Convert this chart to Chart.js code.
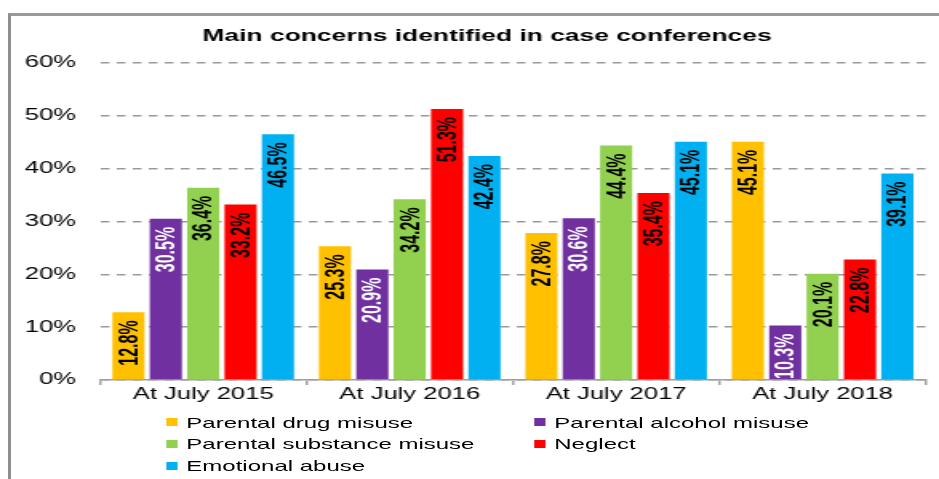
<!DOCTYPE html>
<html>
<head>
<meta charset="utf-8">
<script src="https://cdn.jsdelivr.net/npm/chart.js@4/dist/chart.umd.min.js"></script>
<style>
  html, body { margin: 0; padding: 0; background: #fff; width: 939px; height: 479px; overflow: hidden; }
  #frame { position: absolute; left: 8px; top: 13px; width: 960px; height: 500px;
           border-left: 3px solid #8e8e8e; border-top: 3px solid #9a9a9a; box-sizing: border-box; }
  #wrap { position: absolute; left: 0; top: 0; width: 587px; height: 479px;
          transform: scaleX(1.5997); transform-origin: 0 0; }
  #chart { position: absolute; left: 0; top: 0; }
  #legend { position: absolute; left: 104px; top: 411.5px; display: grid;
            grid-template-columns: 230px auto; grid-auto-rows: 21.8px;
            font: 15px "Liberation Sans", Arial, sans-serif; color: #000; }
  .item { display: flex; align-items: center; white-space: nowrap; line-height: 21.8px; }
  .box { width: 6.5px; height: 8px; margin-right: 6px; display: inline-block; }
</style>
</head>
<body>
<div id="frame"></div>
<div id="wrap">
  <canvas id="chart" width="587" height="479"></canvas>
  <div id="legend"></div>
</div>
<script>
const chartTitle = 'Main concerns identified in case conferences';
const categories = ['At July 2015', 'At July 2016', 'At July 2017', 'At July 2018'];
const seriesNames = ['Parental drug misuse', 'Parental alcohol misuse', 'Parental substance misuse', 'Neglect', 'Emotional abuse'];
const drugMisuse = [12.8, 25.3, 27.8, 45.1];
const alcoholMisuse = [30.5, 20.9, 30.6, 10.3];
const substanceMisuse = [36.4, 34.2, 44.4, 20.1];
const neglect = [33.2, 51.3, 35.4, 22.8];
const emotionalAbuse = [46.5, 42.4, 45.1, 39.1];
const yTickLabels = ['0%', '10%', '20%', '30%', '40%', '50%', '60%'];

const seriesValues = [drugMisuse, alcoholMisuse, substanceMisuse, neglect, emotionalAbuse];
const seriesColors = ['#FFC000', '#7030A0', '#92D050', '#FF0000', '#00B0F0'];
const labelColors = ['#000', '#fff', '#000', '#000', '#000'];
const FONT = '"Liberation Sans", Arial, sans-serif';

const titlePlugin = {
  id: 'titleText',
  afterDraw(chart) {
    const ctx = chart.ctx;
    ctx.save();
    ctx.font = 'bold 16.5px ' + FONT;
    ctx.fillStyle = '#000';
    ctx.textAlign = 'center';
    ctx.textBaseline = 'middle';
    ctx.fillText(chartTitle, 304.5, 36.5);
    ctx.restore();
  }
};

const barLabels = {
  id: 'barLabels',
  afterDatasetsDraw(chart) {
    const ctx = chart.ctx;
    chart.data.datasets.forEach((ds, di) => {
      const meta = chart.getDatasetMeta(di);
      meta.data.forEach((el, i) => {
        const v = ds.data[i];
        ctx.save();
        ctx.translate(el.x, el.y + 8);
        ctx.rotate(-Math.PI / 2);
        ctx.font = 'bold 16px ' + FONT;
        ctx.fillStyle = labelColors[di];
        ctx.textAlign = 'right';
        ctx.textBaseline = 'middle';
        ctx.fillText(v.toFixed(1) + '%', 0, 1);
        ctx.restore();
      });
    });
  }
};

const chart = new Chart(document.getElementById('chart'), {
  type: 'bar',
  data: {
    labels: categories,
    datasets: seriesNames.map((name, i) => ({
      label: name,
      data: seriesValues[i],
      backgroundColor: seriesColors[i],
      borderWidth: 0,
      categoryPercentage: 0.905,
      barPercentage: 0.86
    }))
  },
  options: {
    responsive: false,
    animation: false,
    devicePixelRatio: 1,
    layout: { padding: { left: 0, right: 8.25, top: 63, bottom: 69 } },
    plugins: {
      legend: { display: false },
      tooltip: { enabled: false },
      title: { display: false }
    },
    scales: {
      x: {
        grid: { display: true, drawOnChartArea: false, drawTicks: true, tickLength: 5, color: '#a0a0a0', lineWidth: 1.5 },
        border: { display: true, color: '#a0a0a0', width: 1.5 },
        ticks: { color: '#000', padding: 0, font: { family: FONT, size: 16 }, maxRotation: 0 },
        afterFit(scale) { scale.height = 30; }
      },
      y: {
        min: 0, max: 60,
        ticks: {
          stepSize: 10, color: '#000', padding: 15,
          font: { family: FONT, size: 16 },
          callback: (v) => yTickLabels[Math.round(v / 10)]
        },
        grid: { color: '#9a9a9a', lineWidth: 1.5, drawTicks: false },
        border: { display: false, dash: [5.5, 4.5] },
        afterFit(scale) { scale.width = 62.5; }
      }
    }
  },
  plugins: [barLabels, titlePlugin]
});

const legend = document.getElementById('legend');
chart.data.datasets.forEach((ds) => {
  const item = document.createElement('div');
  item.className = 'item';
  const box = document.createElement('span');
  box.className = 'box';
  box.style.background = ds.backgroundColor;
  item.appendChild(box);
  item.appendChild(document.createTextNode(ds.label));
  legend.appendChild(item);
});
</script>
</body>
</html>
